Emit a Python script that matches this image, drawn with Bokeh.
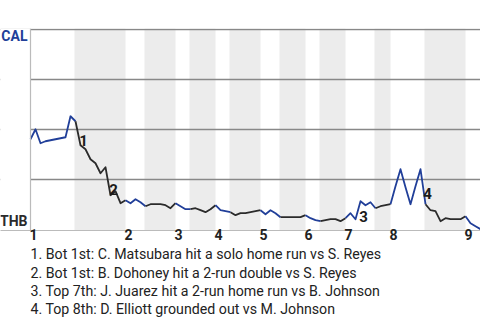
from bokeh.plotting import figure
from bokeh.models import Range1d, FixedTicker, BoxAnnotation, ColumnDataSource, Span, Title
from bokeh.embed import file_html
from bokeh.resources import INLINE
from bokeh.core.properties import value

# ---- data ----
away_team = "CAL"
home_team = "THB"
# CAL win probability after each play (play index 0..90)
win_prob = [0.45, 0.50, 0.43, 0.44, 0.445, 0.45, 0.455, 0.46, 0.565, 0.54,
            0.42, 0.40, 0.35, 0.33, 0.28, 0.31, 0.17, 0.19, 0.13, 0.145,
            0.13, 0.15, 0.135, 0.115, 0.125, 0.125, 0.125, 0.12, 0.105, 0.13,
            0.115, 0.10, 0.10, 0.105, 0.095, 0.085, 0.10, 0.12, 0.095, 0.09,
            0.085, 0.07, 0.08, 0.08, 0.085, 0.09, 0.095, 0.075, 0.095, 0.08,
            0.06, 0.06, 0.06, 0.06, 0.06, 0.07, 0.055, 0.045, 0.04, 0.045,
            0.05, 0.05, 0.04, 0.055, 0.08, 0.05, 0.14, 0.12, 0.135, 0.105,
            0.115, 0.12, 0.125, 0.215, 0.30, 0.21, 0.125, 0.215, 0.30, 0.125,
            0.095, 0.09, 0.04, 0.055, 0.05, 0.05, 0.05, 0.065, 0.03, 0.015, 0.0]
plays = list(range(len(win_prob)))
inning_labels = ["1", "2", "3", "4", "5", "6", "7", "8", "9"]
top_starts = [0, 19, 29, 37, 46, 55, 63, 72, 87]      # first play of each top half
bot_starts = [9, 23, 32, 40, 50, 58, 69, 79]          # first play of each bottom half
event_plays = [10, 16, 66, 79]
event_nums = ["1", "2", "3", "4"]
event_texts = [
    "1. Bot 1st: C. Matsubara hit a solo home run vs S. Reyes",
    "2. Bot 1st: B. Dohoney hit a 2-run double vs S. Reyes",
    "3. Top 7th: J. Juarez hit a 2-run home run vs B. Johnson",
    "4. Top 8th: D. Elliott grounded out vs M. Johnson",
]

# ---- styles ----
BLUE = "#213f99"
DARK = "#2b2b2b"
BAND = "#ececec"
FONT = "Roboto"
Y0, Y1 = -0.0065, 1.004
TOP_PX, FRAME_H = 28, 202
LEFT_PAD = 6          # plays of empty space left of the first play (room for team names)
last = len(win_prob) - 1

def py(px):
    return Y1 - (px - TOP_PX) * (Y1 - Y0) / FRAME_H

p = figure(width=480, height=320, output_backend="svg", toolbar_location=None,
           x_range=Range1d(-LEFT_PAD, last), y_range=Range1d(Y0, Y1),
           min_border_left=0, min_border_right=0, min_border_top=TOP_PX,
           min_border_bottom=320 - TOP_PX - FRAME_H)
p.outline_line_color = None
p.background_fill_color = "white"
p.border_fill_color = "white"

# shaded bottom halves
ends = top_starts[1:] + [last]
for b, e in zip(bot_starts, ends):
    p.add_layout(BoxAnnotation(left=b - 0.2, right=e, fill_color=BAND, fill_alpha=1,
                               line_color=None, level="image"))

# grid
p.xgrid.visible = False
p.ygrid.ticker = FixedTicker(ticks=[0.25, 0.5, 0.75, 1.0])
p.ygrid.grid_line_color = "#888888"
p.ygrid.grid_line_width = 1.5
# blank area for the team names, left of the first play
p.add_layout(BoxAnnotation(right=0, fill_color="white", fill_alpha=1, line_color=None,
                           level="underlay"))
p.add_layout(Span(location=0, dimension="height", line_color="#bbbbbb", line_width=1.2))

# axes
p.yaxis.visible = False
p.xaxis.ticker = FixedTicker(ticks=[t + 0.6 for t in top_starts])
p.xaxis.major_label_overrides = {t + 0.6: lab for t, lab in zip(top_starts, inning_labels)}
p.xaxis.axis_line_color = "#bbbbbb"
p.xaxis.major_tick_line_color = None
p.xaxis.minor_tick_line_color = None
p.xaxis.major_tick_out = 0
p.xaxis.major_tick_in = 0
p.xaxis.minor_tick_out = 0
p.xaxis.minor_tick_in = 0
p.xaxis.major_label_text_font = FONT
p.xaxis.major_label_text_font_style = "bold"
p.xaxis.major_label_text_font_size = "14px"
p.xaxis.major_label_text_color = "#222222"
p.xaxis.major_label_standoff = -2

# win-probability line, colored by half-inning
starts = sorted(top_starts + bot_starts)
for k, s in enumerate(starts):
    e = starts[k + 1] if k + 1 < len(starts) else last
    color = BLUE if s in top_starts else DARK
    p.line(plays[s:e + 1], win_prob[s:e + 1], line_color=color, line_width=1.8,
           line_join="round")

# event markers
offs_x = [3, 3, 3, 2]
offs_y = [-5, -6, 15, -11]
src = ColumnDataSource(dict(x=event_plays, y=[win_prob[i] for i in event_plays],
                            t=event_nums, dx=offs_x, dy=offs_y))
p.text(x="x", y="y", text="t", source=src, x_offset="dx", y_offset="dy",
       text_font=value(FONT), text_font_style="bold", text_font_size="15px",
       text_color="#1a1a1a", text_align="center", text_baseline="middle")

# team labels
team_src = ColumnDataSource(dict(x=[-0.6, -0.6], y=[py(35), py(220)],
                                 t=[away_team, home_team], c=[BLUE, DARK]))
p.text(x="x", y="y", text="t", text_color="c", source=team_src,
       text_font=value(FONT), text_font_style="bold", text_font_size="14px",
       text_align="right", text_baseline="middle")

# event notes
for k, t in enumerate(event_texts):
    p.add_layout(Title(text=t, align="left", offset=30, standoff=2 if k == 0 else 0,
                       text_font=FONT, text_font_size="14.2px", text_font_style="normal",
                       text_line_height=1.15, text_color="#222222"), "below")

open("out.html", "w").write(file_html(p, INLINE))
